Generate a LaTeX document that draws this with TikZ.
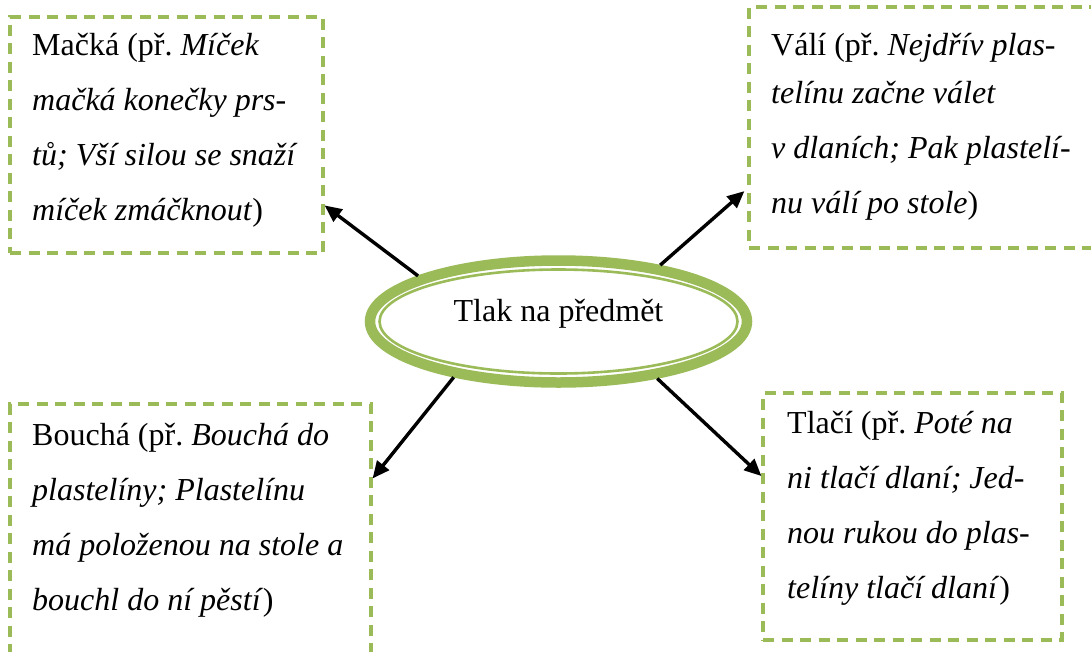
\documentclass[tikz,border=0pt]{standalone}
\usepackage{fontspec}
\setmainfont{Liberation Serif}
\frenchspacing
\usetikzlibrary{shapes.geometric,arrows.meta}
\definecolor{accentgreen}{RGB}{155,187,89}
% a block of text lines whose reference point is the first baseline
\newcommand{\boxlines}[1]{\parbox[t]{330pt}{\fontsize{32}{55}\selectfont\raggedright #1}}
\tikzset{
  frame/.style={draw=accentgreen, line width=3.2pt, dash pattern=on 11pt off 7.5pt,
                rectangle, inner sep=0pt},
  boxtext/.style={anchor=base west, inner sep=0pt},
  arrowline/.style={line width=3.4pt, -{Triangle[length=17pt,width=15pt]}},
}
\begin{document}
\begin{tikzpicture}[x=1pt,y=-1pt]
\useasboundingbox (0,0) rectangle (1091,651);
\clip (0,0) rectangle (1091,651);

% central double ellipse: heavy outer ring and a thin inner ring
\node[ellipse, draw=accentgreen, line width=10.5pt, minimum width=377pt, minimum height=122pt,
      text height=10pt, text depth=10pt, font=\fontsize{32}{38}\selectfont]
  (hub) at (558.5,321.5) {Tlak na předmět};
\node[ellipse, draw=accentgreen, line width=2.6pt, minimum width=358pt, minimum height=104pt]
  (ring) at (558.5,321.5) {};

% dashed frames
\node[frame, minimum width=313pt, minimum height=236pt] (b1) at (166.5,135) {};
\node[frame, minimum width=351pt, minimum height=241pt] (b2) at (924.5,127.5) {};
\node[frame, minimum width=361pt, minimum height=296pt] (b3) at (190.5,552) {};
\node[frame, minimum width=299pt, minimum height=247pt] (b4) at (912.5,516.5) {};

% texts in the frames
\node[boxtext] (t1) at (32,55) {\boxlines{Mačká (př. \textit{Míček}\\
  \textit{mačká konečky prs-}\\
  \textit{tů; Vší silou se snaží}\\
  \textit{míček zmáčknout})}};
\node[boxtext] (t2) at (771,55) {\boxlines{Válí (př. \textit{Nejdřív plas-}\\[-7pt]
  \textit{telínu začne válet}\\
  \textit{v dlaních; Pak plastelí-}\\
  \textit{nu válí po stole})}};
\node[boxtext] (t3) at (32,445) {\boxlines{Bouchá (př. \textit{Bouchá do}\\
  \textit{plastelíny; Plastelínu}\\
  \textit{má položenou na stole a}\\
  \textit{bouchl do ní pěstí})}};
\node[boxtext] (t4) at (787,433) {\boxlines{Tlačí (př. \textit{Poté na}\\
  \textit{ni tlačí dlaní; Jed-}\\
  \textit{nou rukou do plas-}\\
  \textit{telíny tlačí dlaní})}};

% arrows from the centre to the frames
\draw[arrowline] (hub.162.2) -- (b1.-24.8);
\draw[arrowline, shorten >=4pt] (hub.29.5) -- (b2.199.6);
\draw[arrowline] (hub.208.6) -- (b3.22.3);
\draw[arrowline] (hub.330.5) -- (b4.165.2);
\end{tikzpicture}
\end{document}
